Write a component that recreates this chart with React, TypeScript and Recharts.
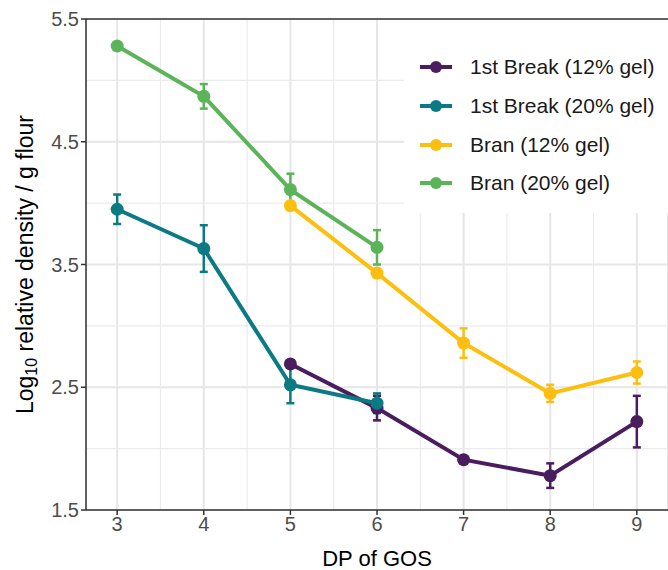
import React from "react";
import {
  LineChart,
  Line,
  XAxis,
  YAxis,
  CartesianGrid,
  ErrorBar,
  ReferenceLine,
} from "recharts";

// DP of GOS per series
const dpBreak12 = [5, 6, 7, 8, 9];
const dpBreak20 = [3, 4, 5, 6];
const dpBran12 = [5, 6, 7, 8, 9];
const dpBran20 = [3, 4, 5, 6];

// log10 relative density / g flour
const break12 = [2.69, 2.33, 1.91, 1.78, 2.22];
const break12Err = [0.03, 0.1, 0.02, 0.1, 0.21];
const break20 = [3.95, 3.63, 2.52, 2.37];
const break20Err = [0.12, 0.19, 0.15, 0.08];
const bran12 = [3.98, 3.43, 2.86, 2.45, 2.62];
const bran12Err = [0.03, 0.03, 0.12, 0.07, 0.09];
const bran20 = [5.28, 4.87, 4.11, 3.64];
const bran20Err = [0.03, 0.1, 0.13, 0.14];

const seriesNames = [
  "1st Break (12% gel)",
  "1st Break (20% gel)",
  "Bran (12% gel)",
  "Bran (20% gel)",
];
const seriesColors = ["#4a1d5f", "#0b7a82", "#fdbf0f", "#5cb45a"];

const xTicks = [3, 4, 5, 6, 7, 8, 9];
const yTicks = [1.5, 2.5, 3.5, 4.5, 5.5];
const xMinor = [3.5, 4.5, 5.5, 6.5, 7.5, 8.5];
const yMinor = [2, 3, 4, 5];

const toRows = (xs: number[], ys: number[], errs: number[]) =>
  xs.map((x, i) => ({ dp: x, value: ys[i], err: errs[i] }));

const seriesData = [
  toRows(dpBreak12, break12, break12Err),
  toRows(dpBreak20, break20, break20Err),
  toRows(dpBran12, bran12, bran12Err),
  toRows(dpBran20, bran20, bran20Err),
];

const FONT = "'Liberation Sans', Arial, sans-serif";

// legend drawn on top of the panel, like the ggplot inset legend
function LegendBox() {
  return (
    <div
      style={{
        position: "absolute",
        left: 404,
        top: 20,
        width: 264,
        height: 193,
        background: "#fff",
        paddingTop: 28,
        boxSizing: "border-box",
        fontFamily: FONT,
      }}
    >
      {seriesNames.map((name, i) => (
        <div
          key={name}
          style={{ display: "flex", alignItems: "center", height: 38.7 }}
        >
          <svg width={66} height={20} style={{ flex: "none" }}>
            <line
              x1={16}
              x2={48}
              y1={10}
              y2={10}
              stroke={seriesColors[i]}
              strokeWidth={4}
            />
            <circle cx={32} cy={10} r={6} fill={seriesColors[i]} />
          </svg>
          <span style={{ fontSize: 21, color: "#1a1a1a", whiteSpace: "nowrap" }}>
            {name}
          </span>
        </div>
      ))}
    </div>
  );
}

function YLabel(props: any) {
  const vb = props.viewBox || {};
  const cx = 25;
  const cy = vb.y + vb.height / 2;
  return (
    <text
      x={cx}
      y={cy}
      transform={`rotate(-90, ${cx}, ${cy})`}
      textAnchor="middle"
      dominantBaseline="central"
      fontSize={23}
      fontFamily={FONT}
      fill="#000"
    >
      Log
      <tspan fontSize={16} dy={6}>
        10
      </tspan>
      <tspan dy={-6}> relative density / g flour</tspan>
    </text>
  );
}

export default function App() {
  return (
    <div style={{ position: "absolute", left: 0, top: 0, width: 668, height: 570 }}>
      <LineChart
        width={668}
        height={570}
        margin={{ top: 19, right: 0, bottom: 0, left: 0 }}
        style={{ fontFamily: FONT }}
      >
        {yMinor.map((v) => (
          <ReferenceLine
            key={`hy${v}`}
            y={v}
            stroke="#ebebeb"
            strokeWidth={1.2}
          />
        ))}
        {xMinor.map((v) => (
          <ReferenceLine
            key={`vx${v}`}
            x={v}
            stroke="#ebebeb"
            strokeWidth={1.2}
          />
        ))}
        <CartesianGrid stroke="#e6e6e6" strokeWidth={2} />
        <ReferenceLine y={5.5} stroke="#333" strokeWidth={1.5} />
        <XAxis
          type="number"
          dataKey="dp"
          domain={[2.64, 9.36]}
          ticks={xTicks}
          allowDuplicatedCategory={false}
          height={60}
          stroke="#333"
          strokeWidth={1.5}
          tickSize={5}
          tick={{ fill: "#4d4d4d", fontSize: 20 }}
          label={{
            value: "DP of GOS",
            position: "insideBottom",
            offset: 4,
            fill: "#000",
            fontSize: 22,
          }}
        />
        <YAxis
          type="number"
          domain={[1.5, 5.5]}
          ticks={yTicks}
          width={86}
          stroke="#333"
          strokeWidth={1.5}
          tickSize={5}
          tick={{ fill: "#4d4d4d", fontSize: 20 }}
          label={<YLabel />}
        />
        {seriesData.map((rows, i) => (
          <Line
            key={seriesNames[i]}
            data={rows}
            dataKey="value"
            name={seriesNames[i]}
            stroke={seriesColors[i]}
            strokeWidth={4}
            dot={{ r: 6.5, fill: seriesColors[i], stroke: "none" }}
            activeDot={false}
            isAnimationActive={false}
          >
            <ErrorBar
              dataKey="err"
              direction="y"
              width={4}
              stroke={seriesColors[i]}
              strokeWidth={2.5}
              isAnimationActive={false}
            />
          </Line>
        ))}
      </LineChart>
      <LegendBox />
    </div>
  );
}
